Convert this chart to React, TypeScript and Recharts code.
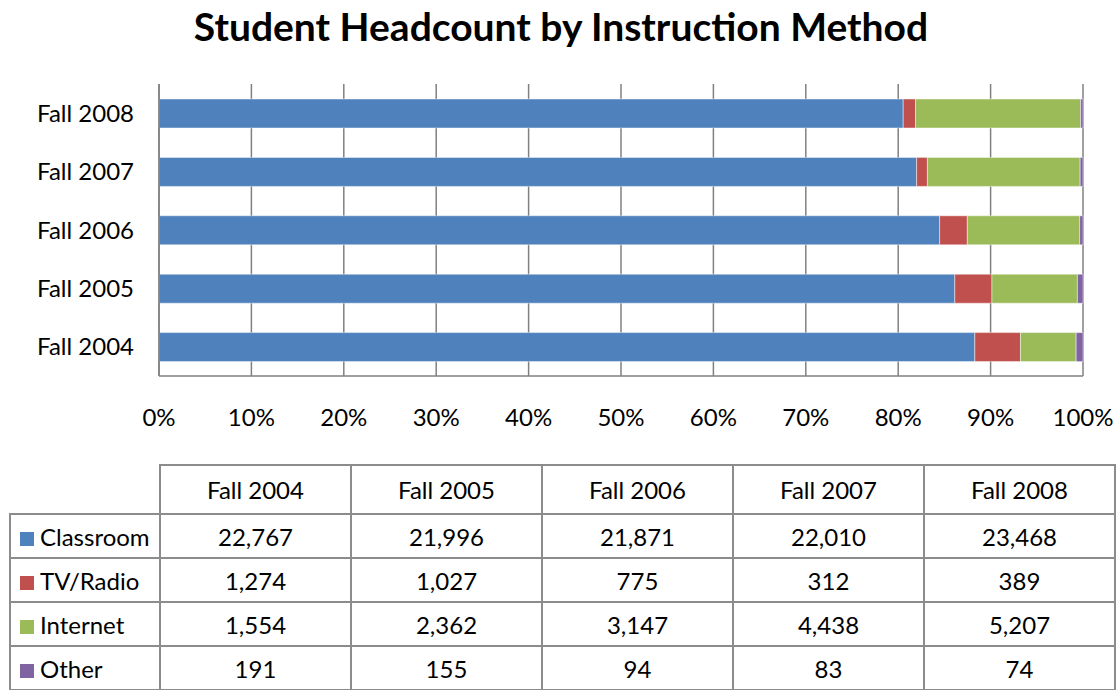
import React from 'react'
import { BarChart, Bar, XAxis, YAxis, CartesianGrid } from 'recharts'

const seasons = ['Fall 2004', 'Fall 2005', 'Fall 2006', 'Fall 2007', 'Fall 2008']
const classroom = [22767, 21996, 21871, 22010, 23468]
const tvRadio = [1274, 1027, 775, 312, 389]
const internet = [1554, 2362, 3147, 4438, 5207]
const other = [191, 155, 94, 83, 74]
const percentTicks = [0, 0.1, 0.2, 0.3, 0.4, 0.5, 0.6, 0.7, 0.8, 0.9, 1]

const series = [
  { key: 'classroom', name: 'Classroom', color: '#4F81BD', values: classroom },
  { key: 'tvRadio', name: 'TV/Radio', color: '#C0504D', values: tvRadio },
  { key: 'internet', name: 'Internet', color: '#9BBB59', values: internet },
  { key: 'other', name: 'Other', color: '#8064A2', values: other }
]

const data = seasons.map((season, i) => {
  const row: Record<string, string | number> = { season }
  series.forEach((s) => {
    row[s.key] = s.values[i]
  })
  return row
})

const font = 'Lato, "Noto Sans", sans-serif'
const gridColor = '#808080'
const cellBorder = '2px solid #8c8c8c'

function DataTable() {
  const headCell: React.CSSProperties = {
    border: cellBorder,
    height: 47,
    textAlign: 'center',
    padding: 0,
    fontWeight: 'normal'
  }
  const cell: React.CSSProperties = {
    border: cellBorder,
    height: 42,
    textAlign: 'center',
    padding: 0
  }
  return (
    <table
      style={{
        position: 'absolute',
        left: 9,
        top: 464,
        borderCollapse: 'collapse',
        fontFamily: font,
        fontSize: 24,
        color: '#000',
        tableLayout: 'fixed',
        width: 1105
      }}
    >
      <colgroup>
        <col style={{ width: 150 }} />
        {seasons.map((s) => (
          <col key={s} style={{ width: 191 }} />
        ))}
      </colgroup>
      <thead>
        <tr>
          <th style={{ border: 'none', padding: 0 }} />
          {seasons.map((s) => (
            <th key={s} style={headCell}>
              {s}
            </th>
          ))}
        </tr>
      </thead>
      <tbody>
        {series.map((s) => (
          <tr key={s.key}>
            <td style={{ ...cell, textAlign: 'left', whiteSpace: 'nowrap' }}>
              <span
                style={{
                  display: 'inline-block',
                  width: 14,
                  height: 14,
                  background: s.color,
                  marginLeft: 9,
                  marginRight: 6
                }}
              />
              {s.name}
            </td>
            {s.values.map((v, i) => (
              <td key={i} style={cell}>
                {v.toLocaleString('en-US')}
              </td>
            ))}
          </tr>
        ))}
      </tbody>
    </table>
  )
}

export default function App() {
  return (
    <div
      style={{
        position: 'absolute',
        left: 0,
        top: 0,
        width: 1117,
        height: 690,
        background: '#fff',
        overflow: 'hidden',
        fontFamily: font
      }}
    >
      <div
        style={{
          position: 'absolute',
          left: 0,
          top: 3,
          width: 1122,
          textAlign: 'center',
          fontSize: 39,
          fontWeight: 'bold',
          lineHeight: '46px'
        }}
      >
        Student Headcount by Instruction Method
      </div>
      <div style={{ position: 'absolute', left: 0, top: 0 }}>
        <BarChart
          width={1117}
          height={436}
          data={data}
          layout="vertical"
          stackOffset="expand"
          margin={{ top: 84, right: 34, bottom: 0, left: 0 }}
        >
          <CartesianGrid horizontal={false} stroke={gridColor} strokeWidth={1.5} />
          <XAxis
            type="number"
            domain={[0, 1]}
            ticks={percentTicks}
            tickFormatter={(v: number) => `${Math.round(v * 100)}%`}
            height={60}
            tickLine={false}
            axisLine={{ stroke: gridColor, strokeWidth: 1.5 }}
            tickMargin={27}
            tick={{ fill: '#000', fontSize: 24, fontFamily: font }}
          />
          <YAxis
            type="category"
            dataKey="season"
            reversed
            width={159}
            tickLine={false}
            axisLine={{ stroke: gridColor, strokeWidth: 1.5 }}
            tickMargin={19}
            tick={{ fill: '#000', fontSize: 24, fontFamily: font }}
          />
          {series.map((s) => (
            <Bar
              key={s.key}
              dataKey={s.key}
              name={s.name}
              stackId="a"
              fill={s.color}
              stroke="rgba(255,255,255,0.45)"
              strokeWidth={1}
              barSize={29}
              isAnimationActive={false}
            />
          ))}
        </BarChart>
      </div>
      <DataTable />
    </div>
  )
}
